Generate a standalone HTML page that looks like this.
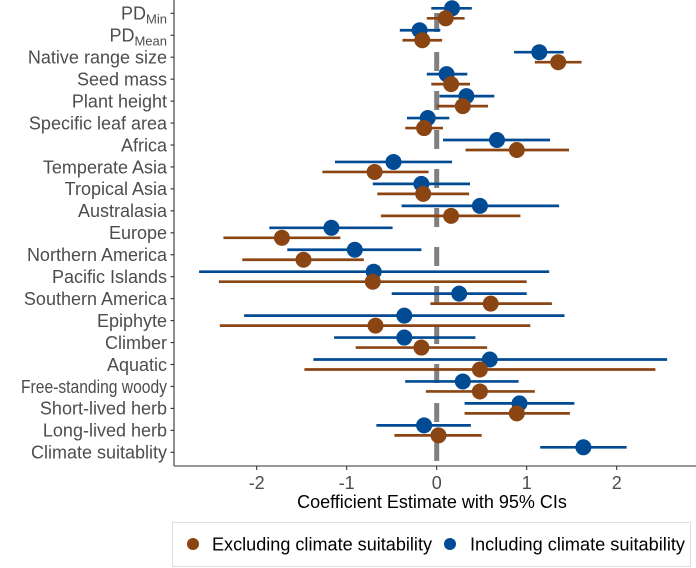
<!DOCTYPE html>
<html><head><meta charset="utf-8"><style>
html,body{margin:0;padding:0;background:#fff;}
svg{display:block;font-family:"Liberation Sans",Arial,sans-serif;}
</style></head><body>
<svg id="chart" width="696" height="568">
<g id="plot"></g>
</svg>
<script>
const categories=["PD_Min","PD_Mean","Native range size","Seed mass","Plant height","Specific leaf area","Africa","Temperate Asia","Tropical Asia","Australasia","Europe","Northern America","Pacific Islands","Southern America","Epiphyte","Climber","Aquatic","Free-standing woody","Short-lived herb","Long-lived herb","Climate suitablity"];
const inclEst=[0.17,-0.19,1.14,0.11,0.33,-0.10,0.67,-0.48,-0.17,0.48,-1.17,-0.91,-0.70,0.25,-0.36,-0.36,0.59,0.29,0.92,-0.14,1.63];
const inclLo=[-0.06,-0.41,0.86,-0.11,0.03,-0.33,0.07,-1.13,-0.71,-0.39,-1.86,-1.66,-2.64,-0.50,-2.14,-1.14,-1.37,-0.35,0.31,-0.67,1.15];
const inclHi=[0.39,0.04,1.41,0.34,0.64,0.14,1.26,0.17,0.37,1.36,-0.49,-0.17,1.25,1.00,1.42,0.43,2.56,0.91,1.53,0.38,2.11];
const exclEst=[0.10,-0.16,1.35,0.16,0.29,-0.14,0.89,-0.69,-0.15,0.16,-1.72,-1.48,-0.71,0.60,-0.68,-0.17,0.48,0.48,0.89,0.02,null];
const exclLo=[-0.11,-0.38,1.09,-0.06,0.00,-0.35,0.32,-1.27,-0.66,-0.62,-2.37,-2.16,-2.42,-0.07,-2.41,-0.90,-1.47,-0.12,0.31,-0.47,null];
const exclHi=[0.31,0.06,1.61,0.37,0.57,0.07,1.47,-0.09,0.36,0.93,-1.07,-0.81,1.00,1.28,1.04,0.56,2.43,1.09,1.48,0.50,null];
const xTicks=[-2,-1,0,1,2];
const xTickLabels=["-2","-1","0","1","2"];

const NS="http://www.w3.org/2000/svg";
const g=document.getElementById('plot');
const ORANGE="#8B4513", BLUE="#004B93";
const xs=v=>436.7+v*90;
const ys=i=>13.3+i*21.95;
function mk(tag,attrs,parent){const e=document.createElementNS(NS,tag);for(const k in attrs)e.setAttribute(k,attrs[k]);(parent||g).appendChild(e);return e;}

let zl=mk('line',{x1:xs(0),x2:xs(0),y1:13,y2:465,stroke:'#808080','stroke-width':5,'stroke-dasharray':'19 20'});



let ya=mk('line',{x1:174,x2:174,y1:0,y2:466,stroke:'#333','stroke-width':1.1});


let xa=mk('line',{x1:174,x2:696,y1:466,y2:466,stroke:'#333','stroke-width':1.1});



categories.forEach((c,i)=>{
  const y=ys(i);
  let t=mk('line',{x1:170.5,x2:174,y1:y,y2:y,stroke:'#333','stroke-width':1.1});
  
  
  let tx=mk('text',{x:167,y:y+6.3,'text-anchor':'end','font-size':18,fill:'#4d4d4d'});
  
  
  if(c.length>18){tx.setAttribute('textLength',146);tx.setAttribute('lengthAdjust','spacingAndGlyphs');}
  if(c.startsWith('PD_')){
    tx.textContent='PD';
    const s=document.createElementNS(NS,'tspan');
    s.setAttribute('font-size','13');s.setAttribute('dy','4');
    s.textContent=c.slice(3);tx.appendChild(s);
  } else tx.textContent=c;
});

xTicks.forEach((v,i)=>{
  let t=mk('line',{x1:xs(v),x2:xs(v),y1:466,y2:470,stroke:'#333','stroke-width':1.1});
  
  
  let tx=mk('text',{x:xs(v),y:489,'text-anchor':'middle','font-size':18,fill:'#4d4d4d'});
  
  
  tx.textContent=xTickLabels[i];
});

function series(est,lo,hi,color,off,name){
  est.forEach((v,i)=>{
    if(v===null)return;
    const y=ys(i)+off;
    let l=mk('line',{x1:xs(lo[i]),x2:xs(hi[i]),y1:y,y2:y,stroke:color,'stroke-width':2.7});
    
    
    let p=mk('circle',{cx:xs(v),cy:y,r:8,fill:color});
    
    
  });
}
series(inclEst,inclLo,inclHi,BLUE,-5,'including');
series(exclEst,exclLo,exclHi,ORANGE,5,'excluding');

let xt=mk('text',{x:432,y:508,'text-anchor':'middle','font-size':18,fill:'#000'});


xt.textContent='Coefficient Estimate with 95% CIs';

let lb=mk('rect',{x:172.5,y:522.5,width:518,height:44,fill:'#fff',stroke:'#ddd','stroke-width':1});


let d1=mk('circle',{cx:193,cy:544,r:6,fill:ORANGE});


let t1=mk('text',{x:212,y:550.5,'font-size':18,fill:'#000',textLength:220,lengthAdjust:'spacingAndGlyphs'});


t1.textContent='Excluding climate suitability';
let d2=mk('circle',{cx:450,cy:544,r:6,fill:BLUE});


let t2=mk('text',{x:470,y:550.5,'font-size':18,fill:'#000',textLength:215,lengthAdjust:'spacingAndGlyphs'});


t2.textContent='Including climate suitability';
</script>
</body></html>
